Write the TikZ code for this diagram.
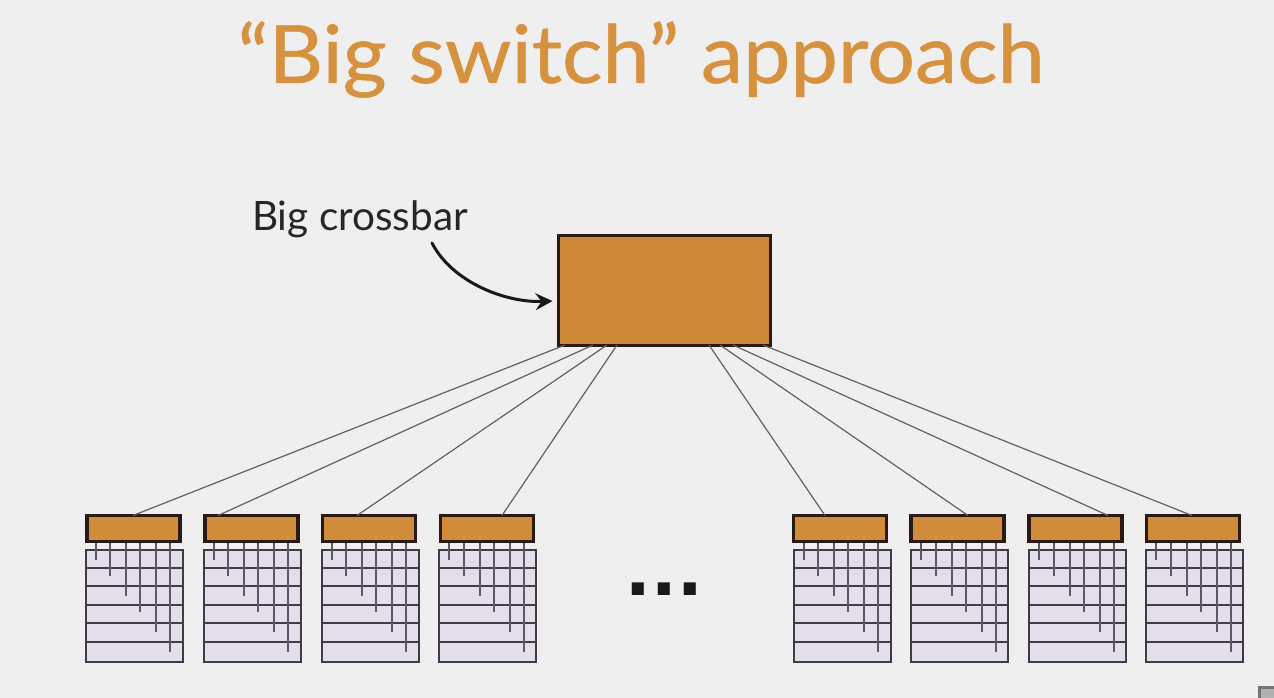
\documentclass[tikz,border=0pt]{standalone}
\usepackage{fontspec}
\setmainfont{Lato}
\newfontfamily\titlefont{Lato}[FakeStretch=1.05,FakeBold=0.6]
\newfontfamily\dotsfont{Liberation Sans}
\usetikzlibrary{arrows.meta}
\definecolor{bgc}{HTML}{EFEFEF}
\definecolor{ttl}{HTML}{D6923E}
\definecolor{boxc}{HTML}{CB8636}
\definecolor{swc}{HTML}{D08C38}
\definecolor{rowc}{HTML}{E3DEE9}
\definecolor{edge}{HTML}{2A1A14}
\definecolor{gridc}{HTML}{403C46}
\definecolor{wirec}{HTML}{5C5866}
\tikzset{
  x=1pt,y=-1pt,
  titletext/.style={text=ttl,font=\titlefont\fontsize{80.6}{84}\selectfont,anchor=base,inner sep=0},
  labeltext/.style={text=black!85,font=\fontsize{40.5}{44}\selectfont,anchor=base,inner sep=0},
  bigbox/.style={draw=edge,line width=3pt,fill=boxc,minimum width=212pt,minimum height=110pt,inner sep=0,outer sep=0,anchor=north west},
  swbox/.style={draw=edge,line width=3.2pt,fill=swc,minimum width=93pt,minimum height=26pt,inner sep=0,outer sep=0,anchor=north west},
  tablebox/.style={draw=gridc,line width=2pt,fill=rowc,minimum width=97pt,minimum height=112pt,inner sep=0,outer sep=0,anchor=north west},
  link/.style={draw=black!62,line width=1.2pt},
  rowline/.style={draw=gridc,line width=1.8pt},
  wireline/.style={draw=wirec,line width=2pt},
}
\newcommand{\rack}[3]{%
  \node[tablebox] (t#1) at (#2,549.5) {};
  \foreach \yy in {18.2,36.8,55.5,73.5,92.5}
    \draw[rowline] ([yshift=-\yy pt]t#1.north west) -- ([yshift=-\yy pt]t#1.north east);
  \foreach \dx/\yy in {10/10,24.7/26.5,40.7/46.5,54.7/62.5,70.7/82.5,84.7/102.5}
    \draw[wireline] ([xshift=\dx pt,yshift=7pt]t#1.north west) -- ([xshift=\dx pt,yshift=-\yy pt]t#1.north west);
  \node[swbox] (s#1) at (#3,515.5) {};
}
\begin{document}
\begin{tikzpicture}
\useasboundingbox (0,0) rectangle (1274,698);
\fill[bgc] (0,0) rectangle (1274,698);
\node[titletext] (title) at (641,83) {“Big switch” approach};
\node[labeltext] (lab) at (360,230) {Big crossbar};
\node[bigbox] (big) at (558.5,235) {};
\rack{1}{85.5}{87}
\rack{2}{203.5}{205}
\rack{3}{321.5}{322.5}
\rack{4}{439}{440.5}
\rack{5}{793.5}{793.5}
\rack{6}{911}{911}
\rack{7}{1029}{1029}
\rack{8}{1146}{1146.5}
\foreach \n/\tx/\bx in {1/46/6.5,2/13/34.5,3/34.5/48.5,4/61.5/58.5,5/31.5/150.5,6/57/161.5,7/79/174.5,8/45.5/204.5}{
  \draw[link] ([xshift=\bx pt]big.south west) -- ([xshift=\tx pt]s\n.north west);
}
\node[inner sep=0,anchor=base,text=black!90,font=\dotsfont\bfseries\fontsize{85}{85}\selectfont] (dots) at (664,595) {.\kern2.4pt.\kern2.4pt.};
\draw[-{Stealth[length=17pt,width=17pt,inset=6pt]},line width=3pt,black!90,line cap=round]
  ([xshift=72pt,yshift=-13pt]lab.base) .. controls +(20,39) and +(-47,2) .. ([xshift=-6pt,yshift=-11pt]big.west);
\fill[black!55] (1258,686) rectangle (1274,698);
\fill[black!30] (1261,689) rectangle (1274,698);
\end{tikzpicture}
\end{document}
